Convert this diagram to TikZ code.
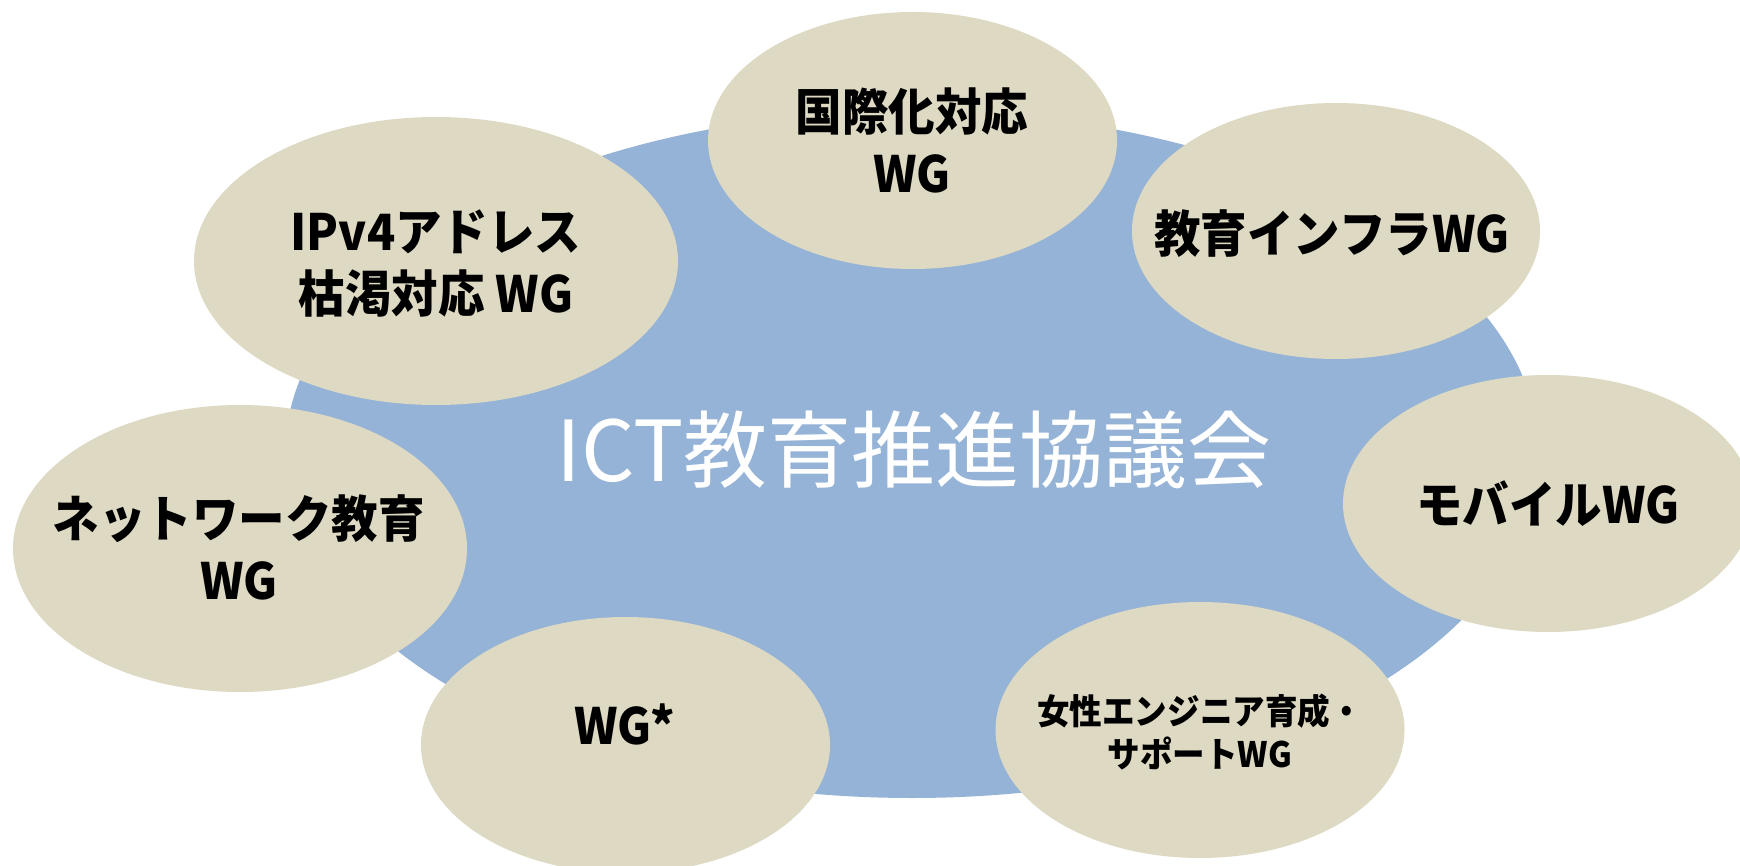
\documentclass[tikz,border=0pt]{standalone}
\usepackage{fontspec}
\usetikzlibrary{shapes.geometric}
\newfontfamily\jp[FakeStretch=0.93]{Noto Sans CJK JP}
\newfontfamily\jptitle{Noto Sans CJK JP}
\definecolor{councilblue}{HTML}{95B3D7}
\definecolor{wgbeige}{HTML}{DDD9C3}
\tikzset{
  council/.style={ellipse, fill=councilblue, inner sep=0pt, outer sep=0pt},
  wg/.style={ellipse, fill=wgbeige, inner sep=0pt, outer sep=0pt},
  wglabel/.style={align=center, inner sep=0pt, text=black,
    font=\jp\bfseries\fontsize{25pt}{31pt}\selectfont},
  wgsmall/.style={align=center, inner sep=0pt, text=black,
    font=\jp\bfseries\fontsize{17.5pt}{21.5pt}\selectfont},
  titlelabel/.style={inner sep=0pt, text=white,
    font=\jptitle\fontsize{42pt}{48pt}\selectfont}
}
\begin{document}
\begin{tikzpicture}[x=0.5pt, y=-0.5pt]
\useasboundingbox (0,0) rectangle (1740,866);
% central council ellipse
\node[council, minimum width=627pt, minimum height=343.5pt] (council) at (912,454.5) {};
% working group ellipses
\node[wg, minimum width=204.5pt, minimum height=128.5pt] (intl) at (912.5,140.5) {};
\node[wg, minimum width=204pt, minimum height=128pt] (infra) at (1336,231) {};
\node[wg, minimum width=242pt, minimum height=144pt] (ipv4) at (436,261) {};
\node[wg, minimum width=227pt, minimum height=143.5pt] (net) at (240,548.5) {};
\node[wg, minimum width=205pt, minimum height=128.5pt] (mobile) at (1548,503.5) {};
\node[wg, minimum width=204.5pt, minimum height=128pt] (wgstar) at (625.5,745) {};
\node[wg, minimum width=204.5pt, minimum height=128pt] (women) at (1200,730) {};
% labels
\node[titlelabel] (title) at (914,450) {ICT教育推進協議会};
\node[wglabel] (tintl) at (912,140) {国際化対応\\WG};
\node[wglabel] (tinfra) at (1332,234) {教育インフラWG};
\node[wglabel] (tipv4) at (436,264) {IPv4アドレス\\枯渇対応 WG};
\node[wglabel] (tnet) at (239,547) {ネットワーク教育\\WG};
\node[wglabel] (tmobile) at (1548,504) {モバイルWG};
\node[wglabel] (twgstar) at (625,724) {WG*};
\node[wgsmall] (twomen) at (1200,732) {女性エンジニア育成・\\サポートWG};
\end{tikzpicture}
\end{document}
